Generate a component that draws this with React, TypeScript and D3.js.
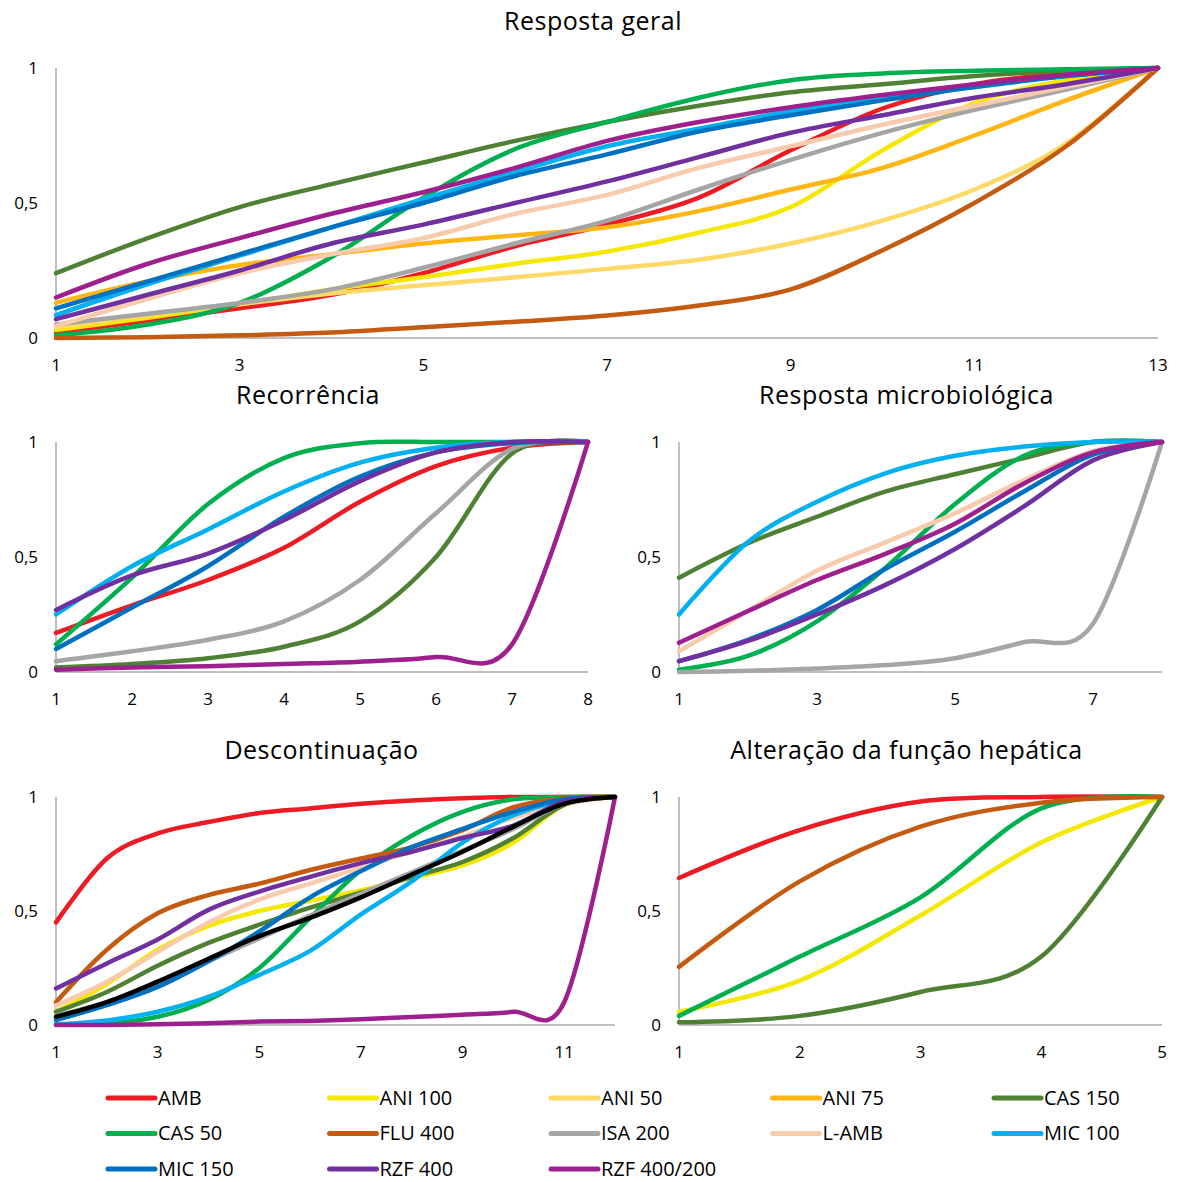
import React from 'react';
import * as d3 from 'd3';

// series colours, in legend order
const names = ['AMB', 'ANI 100', 'ANI 50', 'ANI 75', 'CAS 150', 'CAS 50', 'FLU 400', 'ISA 200', 'L-AMB', 'MIC 100', 'MIC 150', 'RZF 400', 'RZF 400/200'];
const colors = ['#ED1C24', '#F5E800', '#FFD966', '#FFB612', '#4F8135', '#00B050', '#C55A11', '#A5A5A5', '#F8CBAD', '#00B0F0', '#0070C0', '#7030A0', '#9E208E'];
const extraName = 'Outro';
const extraColor = '#000000';

// Resposta geral (ranks 1..13)
const geral: [string, number[]][] = [
  ['AMB', [0.02, 0.065, 0.11, 0.16, 0.24, 0.34, 0.42, 0.52, 0.695, 0.85, 0.94, 0.98, 1]],
  ['ANI 100', [0.03, 0.075, 0.125, 0.18, 0.225, 0.275, 0.32, 0.39, 0.485, 0.695, 0.87, 0.955, 1]],
  ['ANI 50', [0.04, 0.085, 0.125, 0.165, 0.195, 0.225, 0.256, 0.29, 0.35, 0.435, 0.55, 0.72, 1]],
  ['ANI 75', [0.13, 0.21, 0.27, 0.31, 0.35, 0.38, 0.41, 0.47, 0.55, 0.63, 0.75, 0.88, 1]],
  ['CAS 150', [0.24, 0.37, 0.485, 0.57, 0.65, 0.73, 0.8, 0.86, 0.91, 0.94, 0.97, 0.99, 1]],
  ['CAS 50', [0.01, 0.05, 0.13, 0.3, 0.52, 0.7, 0.8, 0.89, 0.955, 0.98, 0.99, 0.995, 1]],
  ['FLU 400', [0, 0.003, 0.01, 0.02, 0.04, 0.06, 0.083, 0.12, 0.18, 0.325, 0.5, 0.71, 1]],
  ['ISA 200', [0.05, 0.09, 0.13, 0.18, 0.26, 0.35, 0.435, 0.55, 0.66, 0.76, 0.845, 0.92, 1]],
  ['L-AMB', [0.045, 0.145, 0.24, 0.31, 0.37, 0.46, 0.53, 0.63, 0.71, 0.79, 0.86, 0.93, 1]],
  ['MIC 100', [0.085, 0.2, 0.305, 0.41, 0.515, 0.615, 0.71, 0.775, 0.84, 0.89, 0.93, 0.97, 1]],
  ['MIC 150', [0.11, 0.21, 0.31, 0.41, 0.5, 0.6, 0.68, 0.765, 0.825, 0.88, 0.93, 0.97, 1]],
  ['RZF 400', [0.07, 0.16, 0.25, 0.35, 0.42, 0.5, 0.58, 0.67, 0.76, 0.825, 0.89, 0.94, 1]],
  ['RZF 400/200', [0.15, 0.275, 0.37, 0.46, 0.54, 0.63, 0.73, 0.8, 0.855, 0.9, 0.94, 0.975, 1]],
];

// Recorrência (ranks 1..8)
const recorrencia: [string, number[]][] = [
  ['AMB', [0.17, 0.29, 0.4, 0.54, 0.74, 0.895, 0.975, 1]],
  ['CAS 150', [0.02, 0.035, 0.06, 0.11, 0.22, 0.5, 0.95, 1]],
  ['CAS 50', [0.12, 0.41, 0.73, 0.93, 0.995, 1, 1, 1]],
  ['ISA 200', [0.047, 0.09, 0.14, 0.22, 0.4, 0.69, 0.97, 1]],
  ['MIC 100', [0.25, 0.46, 0.62, 0.785, 0.91, 0.975, 1, 1]],
  ['MIC 150', [0.1, 0.28, 0.46, 0.675, 0.85, 0.955, 0.995, 1]],
  ['RZF 400', [0.27, 0.42, 0.515, 0.66, 0.83, 0.955, 1, 1]],
  ['RZF 400/200', [0.01, 0.02, 0.025, 0.035, 0.045, 0.065, 0.12, 1]],
];

// Resposta microbiológica (ranks 1..8)
const microbiologica: [string, number[]][] = [
  ['CAS 150', [0.41, 0.56, 0.675, 0.785, 0.86, 0.93, 1, 1]],
  ['CAS 50', [0.01, 0.07, 0.22, 0.455, 0.73, 0.94, 1, 1]],
  ['ISA 200', [0, 0.005, 0.015, 0.03, 0.06, 0.13, 0.21, 1]],
  ['L-AMB', [0.09, 0.265, 0.44, 0.565, 0.69, 0.835, 0.96, 1]],
  ['MIC 100', [0.25, 0.565, 0.74, 0.865, 0.94, 0.98, 1, 1]],
  ['MIC 150', [0.047, 0.14, 0.27, 0.45, 0.61, 0.785, 0.945, 1]],
  ['RZF 400', [0.047, 0.135, 0.25, 0.38, 0.535, 0.72, 0.92, 1]],
  ['RZF 400/200', [0.127, 0.265, 0.4, 0.515, 0.645, 0.82, 0.955, 1]],
];

// Descontinuação (ranks 1..12)
const descontinuacao: [string, number[]][] = [
  ['AMB', [0.45, 0.73, 0.84, 0.89, 0.93, 0.95, 0.97, 0.985, 0.995, 1, 1, 1]],
  ['ANI 100', [0.058, 0.18, 0.33, 0.435, 0.5, 0.545, 0.59, 0.645, 0.7, 0.8, 0.965, 1]],
  ['CAS 150', [0.058, 0.145, 0.26, 0.36, 0.44, 0.515, 0.58, 0.65, 0.715, 0.82, 0.965, 1]],
  ['CAS 50', [0.003, 0.007, 0.036, 0.11, 0.25, 0.47, 0.68, 0.83, 0.935, 0.99, 1, 1]],
  ['FLU 400', [0.1, 0.33, 0.49, 0.57, 0.62, 0.68, 0.73, 0.78, 0.855, 0.955, 0.995, 1]],
  ['ISA 200', [0.04, 0.1, 0.18, 0.28, 0.38, 0.48, 0.575, 0.67, 0.765, 0.86, 0.97, 1]],
  ['L-AMB', [0.085, 0.19, 0.32, 0.45, 0.55, 0.62, 0.69, 0.76, 0.825, 0.91, 0.97, 1]],
  ['MIC 100', [0.003, 0.02, 0.058, 0.123, 0.22, 0.325, 0.485, 0.63, 0.8, 0.92, 0.985, 1]],
  ['MIC 150', [0.022, 0.087, 0.167, 0.28, 0.41, 0.56, 0.675, 0.78, 0.86, 0.935, 0.99, 1]],
  ['RZF 400', [0.16, 0.27, 0.375, 0.505, 0.585, 0.65, 0.71, 0.76, 0.82, 0.875, 0.98, 1]],
  ['RZF 400/200', [0, 0, 0.003, 0.008, 0.015, 0.018, 0.025, 0.035, 0.045, 0.058, 0.1, 1]],
  [extraName, [0.036, 0.1, 0.19, 0.29, 0.39, 0.47, 0.56, 0.66, 0.76, 0.87, 0.97, 1]],
];

// Alteração da função hepática (ranks 1..5)
const hepatica: [string, number[]][] = [
  ['AMB', [0.645, 0.855, 0.98, 1, 1]],
  ['ANI 100', [0.058, 0.195, 0.48, 0.8, 1]],
  ['CAS 150', [0.012, 0.04, 0.145, 0.3, 1]],
  ['CAS 50', [0.04, 0.3, 0.56, 0.95, 1]],
  ['FLU 400', [0.255, 0.63, 0.87, 0.975, 1]],
];

const yTicks = [0, 0.5, 1];
const yTickLabels = ['0', '0,5', '1'];

type PanelProps = {
  title: string;
  series: [string, number[]][];
  xTicks: number[];
  left: number;
  right: number;
  top: number;
  bottom: number;
};

const colorOf = (name: string) => (name === extraName ? extraColor : colors[names.indexOf(name)]);

const font = '"Open Sans", sans-serif';

const Panel = ({ title, series, xTicks, left, right, top, bottom }: PanelProps) => {
  const n = series[0][1].length;
  const x = d3.scaleLinear().domain([1, n]).range([left, right]);
  const y = d3.scaleLinear().domain([0, 1]).range([bottom, top]);
  const line = d3
    .line<number>()
    .x((d, i) => x(i + 1))
    .y((d) => y(d))
    .curve(d3.curveCardinal.tension(0));
  return (
    <g>
      <text x={(left + right) / 2 - 14} y={top - 38} textAnchor="middle" fontFamily={font} fontSize={25} letterSpacing={0.5} fill="#000">
        {title}
      </text>
      <line x1={left} x2={left} y1={top} y2={bottom} stroke="#BFBFBF" strokeWidth={2} />
      <line x1={left} x2={right} y1={bottom} y2={bottom} stroke="#BFBFBF" strokeWidth={2} />
      {yTicks.map((t, i) => (
        <text key={t} x={left - 18} y={y(t)} dy="0.35em" textAnchor="end" fontFamily={font} fontSize={17} fill="#000">
          {yTickLabels[i]}
        </text>
      ))}
      {xTicks.map((t) => (
        <text key={t} x={x(t)} y={bottom + 27} dy="0.35em" textAnchor="middle" fontFamily={font} fontSize={17} fill="#000">
          {t}
        </text>
      ))}
      {series.map(([name, vals]) => (
        <path
          key={name}
          d={line(vals) || ''}
          fill="none"
          stroke={colorOf(name)}
          strokeWidth={4.5}
          strokeLinejoin="round"
          strokeLinecap="round"
        />
      ))}
    </g>
  );
};

const Legend = () => {
  const colX = d3.scaleLinear().domain([0, 4]).range([108, 994]);
  const rowY = d3.scaleLinear().domain([0, 2]).range([1098, 1169]);
  return (
    <g>
      {names.map((name, i) => {
        const cx = colX(i % 5);
        const cy = rowY(Math.floor(i / 5));
        return (
          <g key={name}>
            <line x1={cx} x2={cx + 47} y1={cy} y2={cy} stroke={colors[i]} strokeWidth={5} strokeLinecap="round" />
            <text x={cx + 50} y={cy} dy="0.33em" fontFamily={font} fontSize={20} fill="#000">
              {name}
            </text>
          </g>
        );
      })}
    </g>
  );
};

export default function App() {
  return (
    <svg width={1178} height={1182} style={{ position: 'absolute', left: 0, top: 0, background: '#fff' }}>
      <Panel title="Resposta geral" series={geral} xTicks={[1, 3, 5, 7, 9, 11, 13]} left={56} right={1158} top={68} bottom={338} />
      <Panel title="Recorrência" series={recorrencia} xTicks={[1, 2, 3, 4, 5, 6, 7, 8]} left={56} right={588} top={442} bottom={672} />
      <Panel title="Resposta microbiológica" series={microbiologica} xTicks={[1, 3, 5, 7]} left={679} right={1162} top={442} bottom={672} />
      <Panel title="Descontinuação" series={descontinuacao} xTicks={[1, 3, 5, 7, 9, 11]} left={56} right={615} top={797} bottom={1025} />
      <Panel title="Alteração da função hepática" series={hepatica} xTicks={[1, 2, 3, 4, 5]} left={679} right={1162} top={797} bottom={1025} />
      <Legend />
    </svg>
  );
}
